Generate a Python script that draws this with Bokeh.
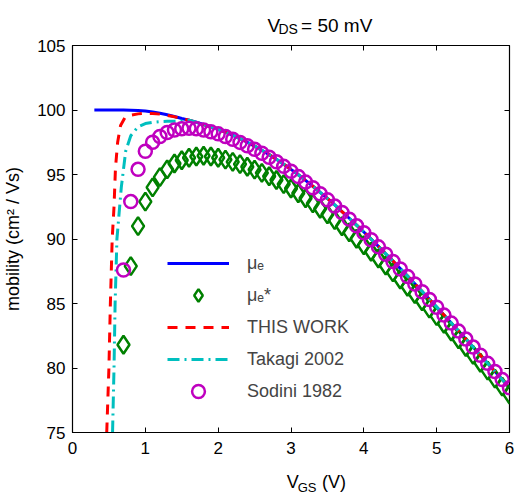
from bokeh.plotting import figure
from bokeh.layouts import column
from bokeh.models import (Range1d, LinearAxis, Legend, LegendItem, FixedTicker,
                          CustomJSTickFormatter)
from bokeh.core.properties import value
from bokeh.embed import file_html
from bokeh.resources import INLINE

# ---------------- data ----------------
# mu_e (blue solid line)
vgs_e = [0.3, 0.4, 0.5, 0.6, 0.7, 0.8, 0.9, 1.0, 1.1, 1.2, 1.3, 1.4, 1.5, 1.6, 1.7, 1.8, 1.9,
         2.0, 2.1, 2.2, 2.3, 2.4, 2.5, 2.6, 2.7, 2.8, 2.9, 3.0, 3.1, 3.2, 3.3, 3.4, 3.5, 3.6,
         3.7, 3.8, 3.9, 4.0, 4.1, 4.2, 4.3, 4.4, 4.5, 4.6, 4.7, 4.8, 4.9, 5.0, 5.1, 5.2, 5.3,
         5.4, 5.5, 5.6, 5.7, 5.8, 5.9, 6.0]
mu_e = [100.00, 100.00, 100.00, 100.00, 100.00, 99.98, 99.96, 99.92, 99.85, 99.75, 99.63,
        99.50, 99.34, 99.20, 99.05, 98.88, 98.70, 98.50, 98.28, 98.04, 97.78, 97.50, 97.20,
        96.88, 96.54, 96.18, 95.80, 95.40, 94.98, 94.54, 94.09, 93.62, 93.14, 92.64, 92.13,
        91.61, 91.08, 90.54, 89.99, 89.43, 88.86, 88.29, 87.71, 87.12, 86.53, 85.93, 85.33,
        84.72, 84.11, 83.49, 82.87, 82.25, 81.62, 80.99, 80.36, 79.73, 79.10, 78.47]

# marker abscissae (mu_e* diamonds and Sodini circles)
vgs_m = [0.7, 0.8, 0.9, 1.0, 1.1, 1.2, 1.3, 1.4, 1.5, 1.6, 1.7, 1.8, 1.9, 2.0, 2.1, 2.2, 2.3,
         2.4, 2.5, 2.6, 2.7, 2.8, 2.9, 3.0, 3.1, 3.2, 3.3, 3.4, 3.5, 3.6, 3.7, 3.8, 3.9, 4.0,
         4.1, 4.2, 4.3, 4.4, 4.5, 4.6, 4.7, 4.8, 4.9, 5.0, 5.1, 5.2, 5.3, 5.4, 5.5, 5.6, 5.7,
         5.8, 5.9, 6.0]
mu_e_star = [81.8, 87.9, 91.0, 92.9, 94.0, 94.8, 95.4, 95.85, 96.1, 96.3, 96.4, 96.45, 96.4,
             96.3, 96.15, 95.98, 95.80, 95.60, 95.38, 95.13, 94.86, 94.57, 94.25, 93.91,
             93.55, 93.16, 92.76, 92.34, 91.91, 91.46, 90.99, 90.51, 90.02, 89.52, 89.01,
             88.49, 87.95, 87.41, 86.86, 86.30, 85.74, 85.17, 84.60, 84.02, 83.43, 82.83,
             82.23, 81.63, 81.02, 80.41, 79.80, 79.18, 78.56, 77.94]
sodini = [87.6, 92.9, 95.4, 96.8, 97.5, 97.95, 98.25, 98.45, 98.55, 98.58, 98.55, 98.45,
          98.32, 98.15, 97.95, 97.73, 97.49, 97.23, 96.95, 96.65, 96.33, 95.99, 95.63, 95.25,
          94.84, 94.41, 93.97, 93.51, 93.04, 92.55, 92.05, 91.54, 91.02, 90.49, 89.94, 89.39,
          88.82, 88.26, 87.68, 87.10, 86.51, 85.91, 85.31, 84.71, 84.10, 83.48, 82.86, 82.24,
          81.62, 80.99, 80.36, 79.73, 79.10, 78.47]

# THIS WORK (red dashed): rising part, then it lies on mu_e from 1.6 V on
red_x_head = [0.47, 0.50, 0.52, 0.545, 0.57, 0.59, 0.62, 0.66, 0.72, 0.8, 0.9, 1.0, 1.1, 1.2,
              1.3, 1.4, 1.5]
red_y_head = [75.0, 80.0, 85.0, 90.0, 92.5, 95.5, 97.5, 98.8, 99.4, 99.6, 99.7, 99.75, 99.73,
              99.68, 99.58, 99.47, 99.34]
# Takagi 2002 (cyan dash-dot): rising part, then on mu_e from 1.6 V on
cyan_x_head = [0.55, 0.57, 0.585, 0.61, 0.64, 0.67, 0.73, 0.8, 0.9, 1.0, 1.1, 1.2, 1.3, 1.4,
               1.5]
cyan_y_head = [75.0, 80.0, 85.0, 90.0, 92.0, 94.0, 96.8, 98.0, 98.7, 98.95, 99.05, 99.1,
               99.12, 99.13, 99.15]
tail_start = vgs_e.index(1.6)
red_x = red_x_head + vgs_e[tail_start:]
red_y = red_y_head + mu_e[tail_start:]
cyan_x = cyan_x_head + vgs_e[tail_start:]
cyan_y = cyan_y_head + mu_e[tail_start:]

x_ticks = [0, 1, 2, 3, 4, 5, 6]
y_ticks = [75, 80, 85, 90, 95, 100, 105]

FONT = "Liberation Sans"
W = 520


def text_strip(height):
    f = figure(width=W, height=height, x_range=Range1d(0, W), y_range=Range1d(0, height),
               output_backend="svg", toolbar_location=None, x_axis_type=None,
               y_axis_type=None, min_border=0)
    f.xgrid.visible = False
    f.ygrid.visible = False
    f.outline_line_color = None
    f.background_fill_color = "white"
    f.border_fill_color = "white"
    return f


def put(f, x, y, txt, size):
    f.text(x=[x], y=[y], text=[txt], text_font=value(FONT), text_font_size=size,
           text_align="left", text_baseline="alphabetic", text_color="black")


# ---------------- title strip:  V_DS = 50 mV ----------------
TOP_H = 35
top = text_strip(TOP_H)
put(top, 232, TOP_H - 25, "V", "19px")
put(top, 245, TOP_H - 28, "DS", "14px")
put(top, 272, TOP_H - 25, "= 50 mV", "19px")

# ---------------- main figure ----------------
BOT_H = 30
MAIN_H = 494 - TOP_H - BOT_H
p = figure(width=W, height=MAIN_H, x_range=Range1d(0, 6), y_range=Range1d(75, 105),
           output_backend="svg", toolbar_location=None,
           min_border_left=70, min_border_right=11, min_border_top=45 - TOP_H,
           min_border_bottom=MAIN_H - (45 - TOP_H) - 387)
p.xgrid.visible = False
p.ygrid.visible = False
p.outline_line_color = "black"
p.outline_line_width = 1.2
p.background_fill_color = "white"
p.border_fill_color = "white"

p.xaxis.ticker = FixedTicker(ticks=x_ticks)
p.yaxis.ticker = FixedTicker(ticks=y_ticks)
for ax in (p.xaxis[0], p.yaxis[0]):
    ax.major_tick_in = 5
    ax.major_tick_out = 0
    ax.minor_tick_line_color = None
    ax.axis_line_color = "black"
    ax.major_tick_line_color = "black"
    ax.major_label_text_font = FONT
    ax.major_label_text_font_size = "17px"
    ax.major_label_text_color = "black"
p.xaxis.major_label_standoff = 9
p.yaxis.major_label_standoff = 7

p.yaxis.axis_label = "mobility (cm² / Vs)"
p.yaxis.axis_label_text_font = FONT
p.yaxis.axis_label_text_font_size = "18px"
p.yaxis.axis_label_text_font_style = "normal"
p.yaxis.axis_label_text_color = "black"
p.yaxis.axis_label_standoff = 11

# box ticks on top and right (no labels)
for loc, ticks in (("right", y_ticks), ("above", x_ticks)):
    ax = LinearAxis(ticker=FixedTicker(ticks=ticks),
                    formatter=CustomJSTickFormatter(code="return ''"))
    ax.major_tick_in = 5
    ax.major_tick_out = 0
    ax.minor_tick_line_color = None
    ax.axis_line_color = None
    ax.major_tick_line_color = "black"
    ax.major_label_standoff = 0
    p.add_layout(ax, loc)

# ---------------- series ----------------
r_blue = p.line(vgs_e, mu_e, line_color="#0000FF", line_width=3)
r_green = p.scatter(vgs_m, mu_e_star, marker="diamond", size=18, fill_color=None,
                    line_color="#008000", line_width=2.5)
r_red = p.line(red_x, red_y, line_color="#FF0000", line_width=3, line_dash="10 8")
r_cyan = p.line(cyan_x, cyan_y, line_color="#00BFBF", line_width=3, line_dash="12 5 2 5")
r_mag = p.scatter(vgs_m, sodini, marker="circle", size=13, fill_color=None,
                  line_color="#BF00BF", line_width=2.5)

legend = Legend(items=[
    LegendItem(label="μₑ", renderers=[r_blue]),
    LegendItem(label="μₑ*", renderers=[r_green]),
    LegendItem(label="THIS WORK", renderers=[r_red]),
    LegendItem(label="Takagi 2002", renderers=[r_cyan]),
    LegendItem(label="Sodini 1982", renderers=[r_mag]),
], location=(95, 25), padding=0, margin=0, spacing=0, glyph_width=62, glyph_height=32,
    label_height=32, label_standoff=18, label_text_font=FONT, label_text_font_size="18px",
    border_line_alpha=0, background_fill_alpha=0)
p.add_layout(legend, "center")

# ---------------- x-label strip:  V_GS (V) ----------------
bot = text_strip(BOT_H)
put(bot, 255, 494 - 481, "V", "18px")
put(bot, 268, 494 - 487, "GS", "13px")
put(bot, 297, 494 - 481, "(V)", "18px")

layout = column(top, p, bot, spacing=0)
open("out.html", "w").write(file_html(layout, INLINE))
